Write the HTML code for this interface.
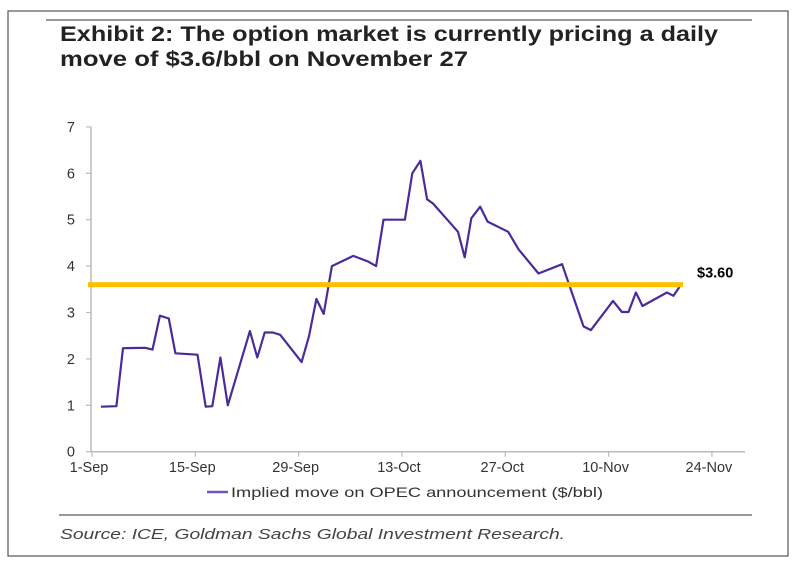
<!DOCTYPE html>
<html><head><meta charset="utf-8"><style>
html,body{margin:0;padding:0;background:#fff;}
svg{display:block;}
</style></head><body>
<svg width="800" height="568" viewBox="0 0 800 568" xmlns="http://www.w3.org/2000/svg">
<rect x="8" y="11" width="780" height="545" fill="#fff" stroke="#555" stroke-width="1.2"/>
<line x1="46" y1="20" x2="752" y2="20" stroke="#999" stroke-width="2"/>
<text x="60" y="41" textLength="658" lengthAdjust="spacingAndGlyphs" font-family="Liberation Sans, sans-serif" font-weight="bold" font-size="21" fill="#222">Exhibit 2: The option market is currently pricing a daily</text>
<text x="60" y="66" textLength="408" lengthAdjust="spacingAndGlyphs" font-family="Liberation Sans, sans-serif" font-weight="bold" font-size="21" fill="#222">move of $3.6/bbl on November 27</text>
<g id="axes"></g>
<g id="plot"></g>
<line x1="207" y1="492" x2="228" y2="492" stroke="#7b4fc0" stroke-width="2.5"/>
<text x="231" y="497" textLength="372" lengthAdjust="spacingAndGlyphs" font-family="Liberation Sans, sans-serif" font-size="14" fill="#333">Implied move on OPEC announcement ($/bbl)</text>
<line x1="59" y1="515" x2="752" y2="515" stroke="#999" stroke-width="2"/>
<text x="60" y="539" textLength="505" lengthAdjust="spacingAndGlyphs" font-family="Liberation Sans, sans-serif" font-style="italic" font-size="15" fill="#444">Source: ICE, Goldman Sachs Global Investment Research.</text>
</svg>
<script>
const days=[1.2,3.3,4.2,7.2,8.2,9.2,10.4,11.3,14.3,15.4,16.3,17.4,18.4,21.4,22.4,23.4,24.5,25.5,28.4,29.4,30.4,31.4,32.5,35.4,37.4,38.5,39.5,42.4,43.4,44.5,45.4,46.2,49.6,50.5,51.4,52.6,53.6,56.4,57.8,60.5,63.7,66.6,67.6,70.6,71.8,72.7,73.7,74.6,77.9,78.8,79.6];
const values=[0.97,0.98,2.23,2.24,2.2,2.93,2.87,2.12,2.09,0.97,0.98,2.03,1.0,2.6,2.03,2.57,2.57,2.52,1.93,2.49,3.29,2.97,4.0,4.22,4.1,4.0,5.0,5.0,6.0,6.27,5.44,5.35,4.74,4.19,5.03,5.28,4.96,4.74,4.36,3.84,4.04,2.7,2.62,3.25,3.01,3.01,3.43,3.14,3.43,3.36,3.55];
const xTickDays=[0,14,28,42,56,70,84];
const xTickLabels=["1-Sep","15-Sep","29-Sep","13-Oct","27-Oct","10-Nov","24-Nov"];
const yTicks=[0,1,2,3,4,5,6,7];
const refValue=[3.6];
const refLabel=["$3.60"];
const NS="http://www.w3.org/2000/svg";
const x=d=>92+d*7.38;
const y=v=>451.7-v*46.4;
function mk(tag,attrs,parent){const e=document.createElementNS(NS,tag);for(const k in attrs)e.setAttribute(k,attrs[k]);parent.appendChild(e);return e;}
const axes=document.getElementById('axes'),plot=document.getElementById('plot');
let a=mk('line',{x1:x(0)-1,y1:y(0),x2:x(0)-1,y2:y(7),stroke:'#bbb','stroke-width':1.5},axes);


a=mk('line',{x1:x(0)-1,y1:y(0),x2:745,y2:y(0),stroke:'#bbb','stroke-width':1.5},axes);


yTicks.forEach(v=>{
 const t=mk('line',{x1:x(0)-6,y1:y(v),x2:x(0)-1,y2:y(v),stroke:'#bbb','stroke-width':1.2},axes);
 
 
 const l=mk('text',{x:75,y:y(v)+5,'text-anchor':'end','font-family':'Liberation Sans, sans-serif','font-size':14.5,fill:'#333'},axes);
 l.textContent=v;
 
 
});
xTickDays.forEach((d,i)=>{
 const t=mk('line',{x1:x(d),y1:y(0),x2:x(d),y2:y(0)+5,stroke:'#bbb','stroke-width':1.2},axes);
 
 
 const l=mk('text',{x:x(d)-3,y:472,'text-anchor':'middle','font-family':'Liberation Sans, sans-serif','font-size':14.5,fill:'#333'},axes);
 l.textContent=xTickLabels[i];
 
 
});
const pts=days.map((d,i)=>x(d).toFixed(1)+','+y(values[i]).toFixed(1)).join(' ');
const line=mk('polyline',{points:pts,fill:'none',stroke:'#4b2a9a','stroke-width':2.2,'stroke-linejoin':'round'},plot);


const ref=mk('line',{x1:88,y1:y(refValue[0]),x2:683,y2:y(refValue[0]),stroke:'#ffc000','stroke-width':5},plot);


const rl=mk('text',{x:697,y:y(refValue[0])-7,'font-family':'Liberation Sans, sans-serif','font-weight':'bold','font-size':14.5,fill:'#000'},plot);
rl.textContent=refLabel[0];


</script>
</body></html>
